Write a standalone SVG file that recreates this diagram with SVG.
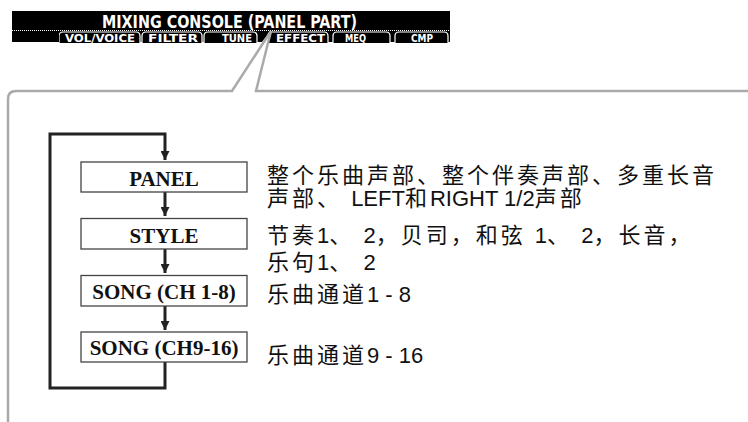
<svg xmlns="http://www.w3.org/2000/svg" width="748" height="422" viewBox="0 0 748 422">
<defs>
<style>
.hdr{font-family:"DejaVu Sans Condensed","DejaVu Sans",sans-serif;font-weight:bold;fill:#fff}
.tab{fill:#000;stroke:#fff;stroke-width:1.2}
.tabt{font-family:"DejaVu Sans Condensed","DejaVu Sans",sans-serif;font-weight:bold;font-size:11px;fill:#fff}
.callout{fill:none;stroke:#aaaaac;stroke-width:2.5}
.box{fill:#fff;stroke:#444;stroke-width:1.3}
.lbl{font-family:"Liberation Serif","Times New Roman",serif;font-weight:bold;font-size:21px;fill:#111;text-anchor:middle}
.desc{font-family:"Liberation Sans","Noto Sans CJK SC",sans-serif;font-size:22px;fill:#111;letter-spacing:3px}
.lat{letter-spacing:0px}
.flow{fill:none;stroke:#222;stroke-width:3}
</style>
<marker id="ah" viewBox="0 0 10 10" refX="10" refY="5" markerWidth="3" markerHeight="3" orient="auto" markerUnits="strokeWidth">
<path d="M0,0 L10,5 L0,10 z" fill="#222"/>
</marker>
</defs>

<g id="header">
<path d="M12,11 H450 V42 H12 Z" fill="#000"/>
<text class="hdr" x="102" y="28" font-size="18" textLength="255" lengthAdjust="spacingAndGlyphs">MIXING CONSOLE (PANEL PART)</text>
<line x1="12" y1="30.5" x2="450" y2="30.5" stroke="#fff" stroke-width="1" stroke-dasharray="1,1"/>
<path class="tab" d="M59,43 V36 Q59,32 63,32 H136 Q140,32 140,36 V43"/>
<path class="tab" d="M142,43 V36 Q142,32 146,32 H198 Q202,32 202,36 V43"/>
<path class="tab" d="M204,43 V36 Q204,32 208,32 H253 Q257,32 257,36 V43"/>
<path class="tab" d="M268,43 V36 Q268,32 272,32 H324 Q328,32 328,36 V43"/>
<path class="tab" d="M333,43 V36 Q333,32 337,32 H386 Q390,32 390,36 V43"/>
<path class="tab" d="M395,43 V36 Q395,32 399,32 H444 Q448,32 448,36 V43"/>
<text class="tabt" x="65" y="41.5" textLength="70" lengthAdjust="spacingAndGlyphs">VOL/VOICE</text>
<text class="tabt" x="148" y="41.5" textLength="50" lengthAdjust="spacingAndGlyphs">FILTER</text>
<text class="tabt" x="222" y="41.5" textLength="30" lengthAdjust="spacingAndGlyphs">TUNE</text>
<text class="tabt" x="276" y="41.5" textLength="49" lengthAdjust="spacingAndGlyphs">EFFECT</text>
<text class="tabt" x="345" y="41.5" textLength="21" lengthAdjust="spacingAndGlyphs">MEQ</text>
<text class="tabt" x="411" y="41.5" textLength="22" lengthAdjust="spacingAndGlyphs">CMP</text>
<path d="M12,42 H59 V31 H12 Z" fill="#000"/>
<polygon points="271,31 261,43 268,43" fill="#fff"/>
</g>

<g id="callout">
<path class="callout" d="M271,31 L232,91 H16 Q8,91 8,99 V422"/>
<path class="callout" d="M271,31 L256,91 H748"/>
</g>

<g id="connectors">
<path class="flow" d="M165,362 V388 H50 V134 H165 V160" marker-end="url(#ah)"/>
<line class="flow" x1="165" y1="192" x2="165" y2="216" marker-end="url(#ah)"/>
<line class="flow" x1="165" y1="249" x2="165" y2="273" marker-end="url(#ah)"/>
<line class="flow" x1="165" y1="306" x2="165" y2="330" marker-end="url(#ah)"/>
</g>

<g id="panel">
<rect class="box" x="81" y="162" width="166" height="30"/>
<text class="lbl" x="164" y="186">PANEL</text>
</g>
<g id="style">
<rect class="box" x="81" y="218.5" width="166" height="30.5"/>
<text class="lbl" x="164" y="243">STYLE</text>
</g>
<g id="song1">
<rect class="box" x="81" y="275.5" width="166" height="30.5"/>
<text class="lbl" x="164" y="299">SONG (CH 1-8)</text>
</g>
<g id="song2">
<rect class="box" x="81" y="332" width="166" height="30"/>
<text class="lbl" x="164" y="355">SONG (CH9-16)</text>
</g>

<g id="descriptions">
<text class="desc" x="267" y="183">整个乐曲声部、整个伴奏声部、多重长音</text>
<text class="desc" x="267" y="206">声部、 <tspan class="lat">LEFT</tspan>和<tspan class="lat">RIGHT 1/2</tspan>声部</text>
<text class="desc" x="267" y="243">节奏<tspan class="lat">1</tspan>、 <tspan class="lat">2</tspan>，贝司，和弦 <tspan class="lat">1</tspan>、 <tspan class="lat">2</tspan>，长音，</text>
<text class="desc" x="267" y="270">乐句<tspan class="lat">1</tspan>、 <tspan class="lat">2</tspan></text>
<text class="desc" x="267" y="302">乐曲通道<tspan class="lat">1 - 8</tspan></text>
<text class="desc" x="267" y="363">乐曲通道<tspan class="lat">9 - 16</tspan></text>
</g>
</svg>
